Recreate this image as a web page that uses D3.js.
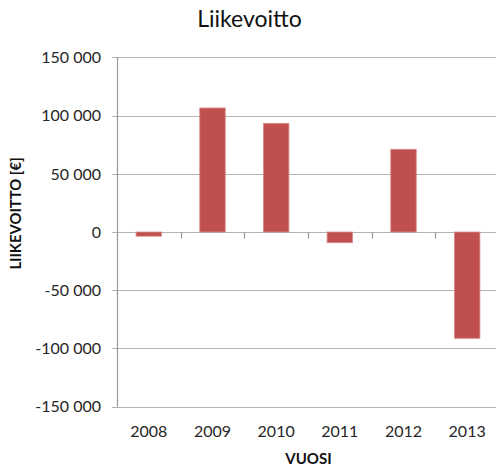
<!DOCTYPE html>
<html><head><meta charset="utf-8">
<script src="https://cdn.jsdelivr.net/npm/d3@7"></script>
<style>body{margin:0;background:#fff}svg{display:block}text{font-family:Lato,"Open Sans",sans-serif}</style>
</head><body><svg id="c" width="496" height="468"></svg>
<script>
const years = ["2008","2009","2010","2011","2012","2013"];
const values = [-3600, 106500, 93300, -9200, 71000, -91300];
const yTicks = [-150000,-100000,-50000,0,50000,100000,150000];
const title = "Liikevoitto";
const xTitle = "VUOSI";
const yTitle = "LIIKEVOITTO [€]";

const svg = d3.select("#c");
const x = d3.scaleBand().domain(years).range([117, 499]).padding(0);
const y = d3.scaleLinear().domain([-150000,150000]).range([406.7, 57.3]);
const fmt = v => d3.format(",")(v).replace(/,/g," ").replace("−","-");

// gridlines + y ticks
svg.append("g").selectAll("line").data(yTicks).join("line")
  .attr("x1",112).attr("x2",496)
  .attr("y1",d=>Math.round(y(d))+0.5).attr("y2",d=>Math.round(y(d))+0.5)
  .attr("stroke","#b3b3b3").attr("stroke-width",1.2);
// y axis line
svg.append("line").attr("x1",117.5).attr("x2",117.5).attr("y1",y(150000)).attr("y2",y(-150000))
  .attr("stroke","#9a9a9a").attr("stroke-width",1.2);
// y tick labels
svg.append("g").selectAll("text").data(yTicks).join("text")
  .attr("x",101).attr("y",d=>y(d)).attr("dy","0.36em").attr("text-anchor","end")
  .attr("font-size",16).attr("fill","#262626").text(fmt);
// x category tick marks on zero line
const y0 = Math.round(y(0))+0.5;
svg.append("g").selectAll("line").data(years.slice(1)).join("line")
  .attr("x1",d=>Math.round(x(d))+0.5).attr("x2",d=>Math.round(x(d))+0.5)
  .attr("y1",y0).attr("y2",y0+6).attr("stroke","#9a9a9a").attr("stroke-width",1.2);
// bars
const bw = x.bandwidth()/2.5;
svg.append("g").selectAll("rect").data(years).join("rect")
  .attr("x",d=>x(d)+x.bandwidth()/2-bw/2)
  .attr("width",bw)
  .attr("y",(d,i)=>Math.min(y(values[i]),y(0)))
  .attr("height",(d,i)=>Math.abs(y(values[i])-y(0)))
  .attr("fill","#c0504d").attr("stroke","#d88a88").attr("stroke-width",0.8);
// x labels
svg.append("g").selectAll("text").data(years).join("text")
  .attr("x",d=>x(d)+x.bandwidth()/2).attr("y",436.5).attr("text-anchor","middle")
  .attr("font-size",16).attr("fill","#262626").text(d=>d);
// titles
svg.append("text").attr("x",249.5).attr("y",27).attr("text-anchor","middle")
  .attr("font-size",23).attr("fill","#111").text(title);
svg.append("text").attr("x",308.5).attr("y",464).attr("text-anchor","middle")
  .attr("font-size",15).attr("font-weight","bold").attr("fill","#111").text(xTitle);
svg.append("text").attr("transform","translate(21,213.5) rotate(-90)").attr("text-anchor","middle")
  .attr("font-size",14.8).attr("font-weight","bold").attr("fill","#111").text(yTitle);
</script></body></html>
